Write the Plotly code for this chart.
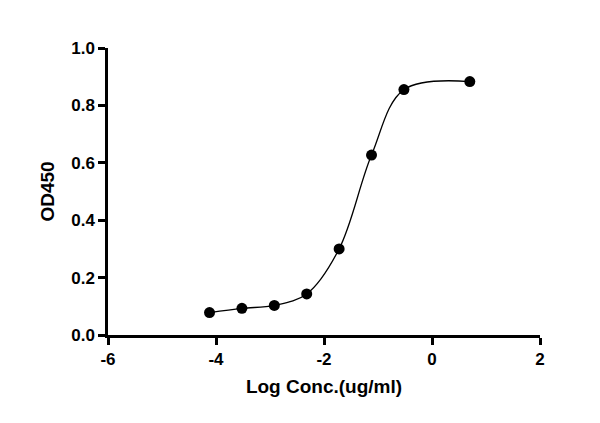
import plotly.graph_objects as go

log_conc = [-4.12, -3.52, -2.92, -2.32, -1.72, -1.12, -0.52, 0.70]
od450 = [0.078, 0.093, 0.103, 0.143, 0.300, 0.627, 0.855, 0.883]
x_ticks = [-6, -4, -2, 0, 2]
y_ticks = [0.0, 0.2, 0.4, 0.6, 0.8, 1.0]

fig = go.Figure()
fig.add_trace(go.Scatter(x=log_conc, y=od450, mode="lines",
                         line=dict(color="black", width=1.3, shape="spline", smoothing=1.0),
                         hoverinfo="skip"))
fig.add_trace(go.Scatter(x=log_conc, y=od450, mode="markers",
                         marker=dict(color="black", size=11)))

axis_common = dict(showgrid=False, zeroline=False, showline=True, linecolor="black",
                   linewidth=2.5, ticks="outside", ticklen=7, tickwidth=2.5, tickcolor="black",
                   tickfont=dict(family="Liberation Sans", size=17, color="black"))
fig.update_xaxes(range=[-6, 2], tickvals=x_ticks, ticktext=[f"<b>{v}</b>" for v in x_ticks],
                 title=dict(text="<b>Log Conc.(ug/ml)</b>", font=dict(family="Liberation Sans", size=19, color="black"), standoff=12),
                 **axis_common)
fig.update_yaxes(range=[0, 1.0], tickvals=y_ticks, ticktext=[f"<b>{v:.1f}</b>" for v in y_ticks],
                 title=dict(text="<b>OD450</b>", font=dict(family="Liberation Sans", size=19, color="black"), standoff=12),
                 **axis_common)
fig.update_layout(width=600, height=423, showlegend=False, plot_bgcolor="white", paper_bgcolor="white",
                  margin=dict(l=100, r=68, t=40, b=96))
fig.write_html("out.html")
